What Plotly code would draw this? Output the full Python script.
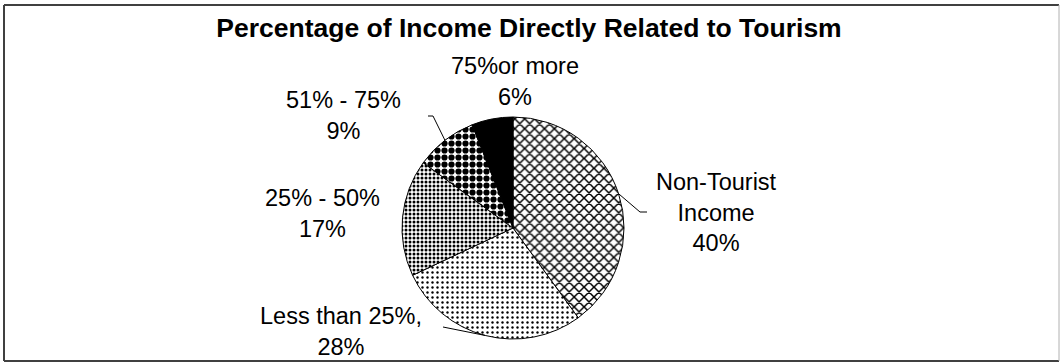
import math
import plotly.graph_objects as go

# Share of income by how much of it comes directly from tourism
categories = ["Non-Tourist Income", "Less than 25%", "25% - 50%", "51% - 75%", "75%or more"]
shares = [40, 28, 17, 9, 6]

# Text shown beside each slice (category wording, then its share)
label_heads = ["Non-Tourist<br>Income", "Less than 25%,", "25% - 50%", "51% - 75%", "75%or more"]

W, H = 1060, 364
CX, CY, R = 513, 228, 111  # pie centre and radius in pixels

# Fill patterns per slice: (shape, size, solidity, background)
patterns = [
    ("x", 7, 0.38, "white"),
    (".", 5, 0.18, "white"),
    (".", 4, 0.45, "white"),
    (".", 7, 0.62, "white"),
    ("", 8, 0.5, "black"),
]

# Label centres (px) and leader-line bends for the labelled slices
label_pos = [(716, 212), (341, 331), (322, 213), (343, 115), (515, 82)]
leader_bends = [[(640, 212), (647, 212)], [(443, 327)], None, [(433, 116), (428, 116)], None]


def px(x):
    return x / W


def py(y):
    return 1 - y / H


fig = go.Figure(
    go.Pie(
        labels=categories,
        values=shares,
        sort=False,
        direction="clockwise",
        rotation=0,
        textinfo="none",
        hoverinfo="label+percent",
        marker=dict(
            colors=[p[3] for p in patterns],
            line=dict(color="black", width=1),
            pattern=dict(
                shape=[p[0] for p in patterns],
                size=[p[1] for p in patterns],
                solidity=[p[2] for p in patterns],
                fgcolor="black",
                bgcolor=[p[3] for p in patterns],
                fillmode="replace",
            ),
        ),
        domain=dict(x=[px(CX - R), px(CX + R)], y=[py(CY + R), py(CY - R)]),
        showlegend=False,
    )
)

annotations = []
shapes = []
total = sum(shares)
cum = 0
for i, (head, v) in enumerate(zip(label_heads, shares)):
    mid = (cum + v / 2) / total * 2 * math.pi
    cum += v
    lx, ly = label_pos[i]
    annotations.append(
        dict(
            x=px(lx), y=py(ly), xref="paper", yref="paper",
            text=f"{head}<br>{round(v / total * 100)}%",
            showarrow=False, xanchor="center", yanchor="middle",
            font=dict(family="Liberation Sans, Arial, sans-serif", size=23.5, color="black"),
            align="center",
        )
    )
    if leader_bends[i]:
        ex = CX + R * math.sin(mid)
        ey = CY - R * math.cos(mid)
        pts = [(ex, ey)] + leader_bends[i]
        path = "M " + " L ".join(f"{px(x)},{py(y)}" for x, y in pts)
        shapes.append(dict(type="path", path=path, xref="paper", yref="paper",
                           line=dict(color="black", width=1)))

# Chart frame: dark on three sides, light on the right
frame_dark = dict(color="#404040", width=2)
shapes += [
    dict(type="line", xref="paper", yref="paper", x0=px(4), x1=px(4), y0=py(5), y1=py(361), line=frame_dark),
    dict(type="line", xref="paper", yref="paper", x0=px(4), x1=px(1059), y0=py(5), y1=py(5), line=frame_dark),
    dict(type="line", xref="paper", yref="paper", x0=px(4), x1=px(1059), y0=py(361), y1=py(361), line=frame_dark),
    dict(type="line", xref="paper", yref="paper", x0=px(1059), x1=px(1059), y0=py(5), y1=py(361),
         line=dict(color="#b0b0b0", width=1)),
]

fig.update_layout(
    width=W, height=H,
    margin=dict(l=0, r=0, t=0, b=0),
    paper_bgcolor="white", plot_bgcolor="white",
    title=dict(
        text="<b>Percentage of Income Directly Related to Tourism</b>",
        x=px(529), y=py(28), xanchor="center", yanchor="middle",
        font=dict(family="Liberation Sans, Arial, sans-serif", size=26.5, color="black"),
    ),
    annotations=annotations,
    shapes=shapes,
)

fig.write_html("out.html")
